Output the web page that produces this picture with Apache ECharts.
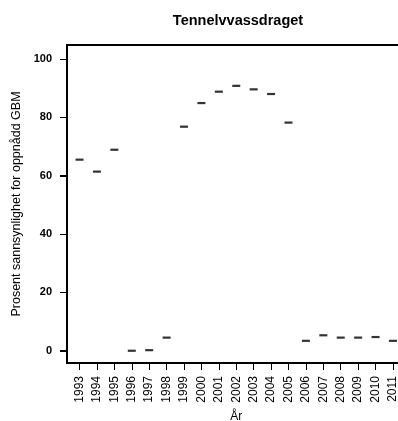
<!DOCTYPE html>
<html>
<head>
<meta charset="utf-8">
<script src="https://cdn.jsdelivr.net/npm/echarts@6/dist/echarts.min.js"></script>
<style>
html,body{margin:0;padding:0;background:#fff;}
#c{width:398px;height:421px;}
</style>
</head>
<body>
<div id="c"></div>
<script>
const titleText = "Tennelvvassdraget";
const yAxisTitle = "Prosent sannsynlighet for oppnådd GBM";
const xAxisTitle = "År";
const years = [1993,1994,1995,1996,1997,1998,1999,2000,2001,2002,2003,2004,2005,2006,2007,2008,2009,2010,2011];
const values = [65.5,61.4,68.9,0.0,0.2,4.5,76.8,84.9,88.8,90.8,89.6,88.0,78.2,3.4,5.3,4.5,4.5,4.7,3.4];
const yTicks = [0,20,40,60,80,100];

const font = "'Liberation Sans', Arial, sans-serif";
const X_MIN = 1992.28, X_MAX = 2011.72;
const chart = echarts.init(document.getElementById('c'), null, {renderer:'canvas'});
chart.setOption({
  animation:false,
  backgroundColor:'#fff',
  title:{
    text:titleText,
    left:233, top:8, textAlign:'center',
    textStyle:{fontFamily:font,fontSize:14.5,fontWeight:'bold',color:'#000'}
  },
  grid:{
    left:67, top:45, width:338.5, height:318,
    outerBoundsMode:'none', containLabel:false,
    show:true, borderColor:'#000', borderWidth:2, backgroundColor:'transparent'
  },
  xAxis:{
    type:'value', min:X_MIN, max:X_MAX, position:'bottom',
    name:xAxisTitle, nameLocation:'middle', nameGap:44,
    nameTextStyle:{fontFamily:font,fontSize:12,color:'#000'},
    axisLine:{show:true, onZero:false, lineStyle:{color:'#000',width:2}},
    splitLine:{show:false},
    axisTick:{show:true, inside:false, length:7, lineStyle:{color:'#000',width:1}, customValues:years},
    axisLabel:{show:true, rotate:90, margin:13, fontFamily:font, fontSize:12, color:'#000',
      customValues:years, formatter:v=>String(v)}
  },
  yAxis:{
    type:'value', min:-4.2, max:104.8, position:'left',
    name:yAxisTitle, nameLocation:'middle', nameGap:44, nameRotate:90,
    nameTextStyle:{fontFamily:font,fontSize:12.5,color:'#000'},
    axisLine:{show:true, onZero:false, lineStyle:{color:'#000',width:2}},
    splitLine:{show:false},
    axisTick:{show:true, inside:false, length:7, lineStyle:{color:'#000',width:1}, customValues:yTicks},
    axisLabel:{show:true, margin:15, fontFamily:font, fontSize:11, fontWeight:'bold', color:'#000',
      customValues:yTicks}
  },
  series:[{
    type:'scatter',
    data:years.map((y,i)=>[y,values[i]]),
    symbol:'rect', symbolSize:[8,2.2],
    itemStyle:{color:'#000'},
    clip:false
  }]
});
// y-axis tick marks positioned through the chart's own scale
const tickGraphics = yTicks.map(v=>{
  const p = chart.convertToPixel({gridIndex:0}, [X_MIN, v]);
  const y = Math.round(p[1]) + 0.5;
  return {
    type:'line', silent:true,
    shape:{x1:p[0]-7, y1:y, x2:p[0], y2:y},
    style:{stroke:'#000', lineWidth:1}
  };
});
chart.setOption({graphic:tickGraphics});
</script>
</body>
</html>
